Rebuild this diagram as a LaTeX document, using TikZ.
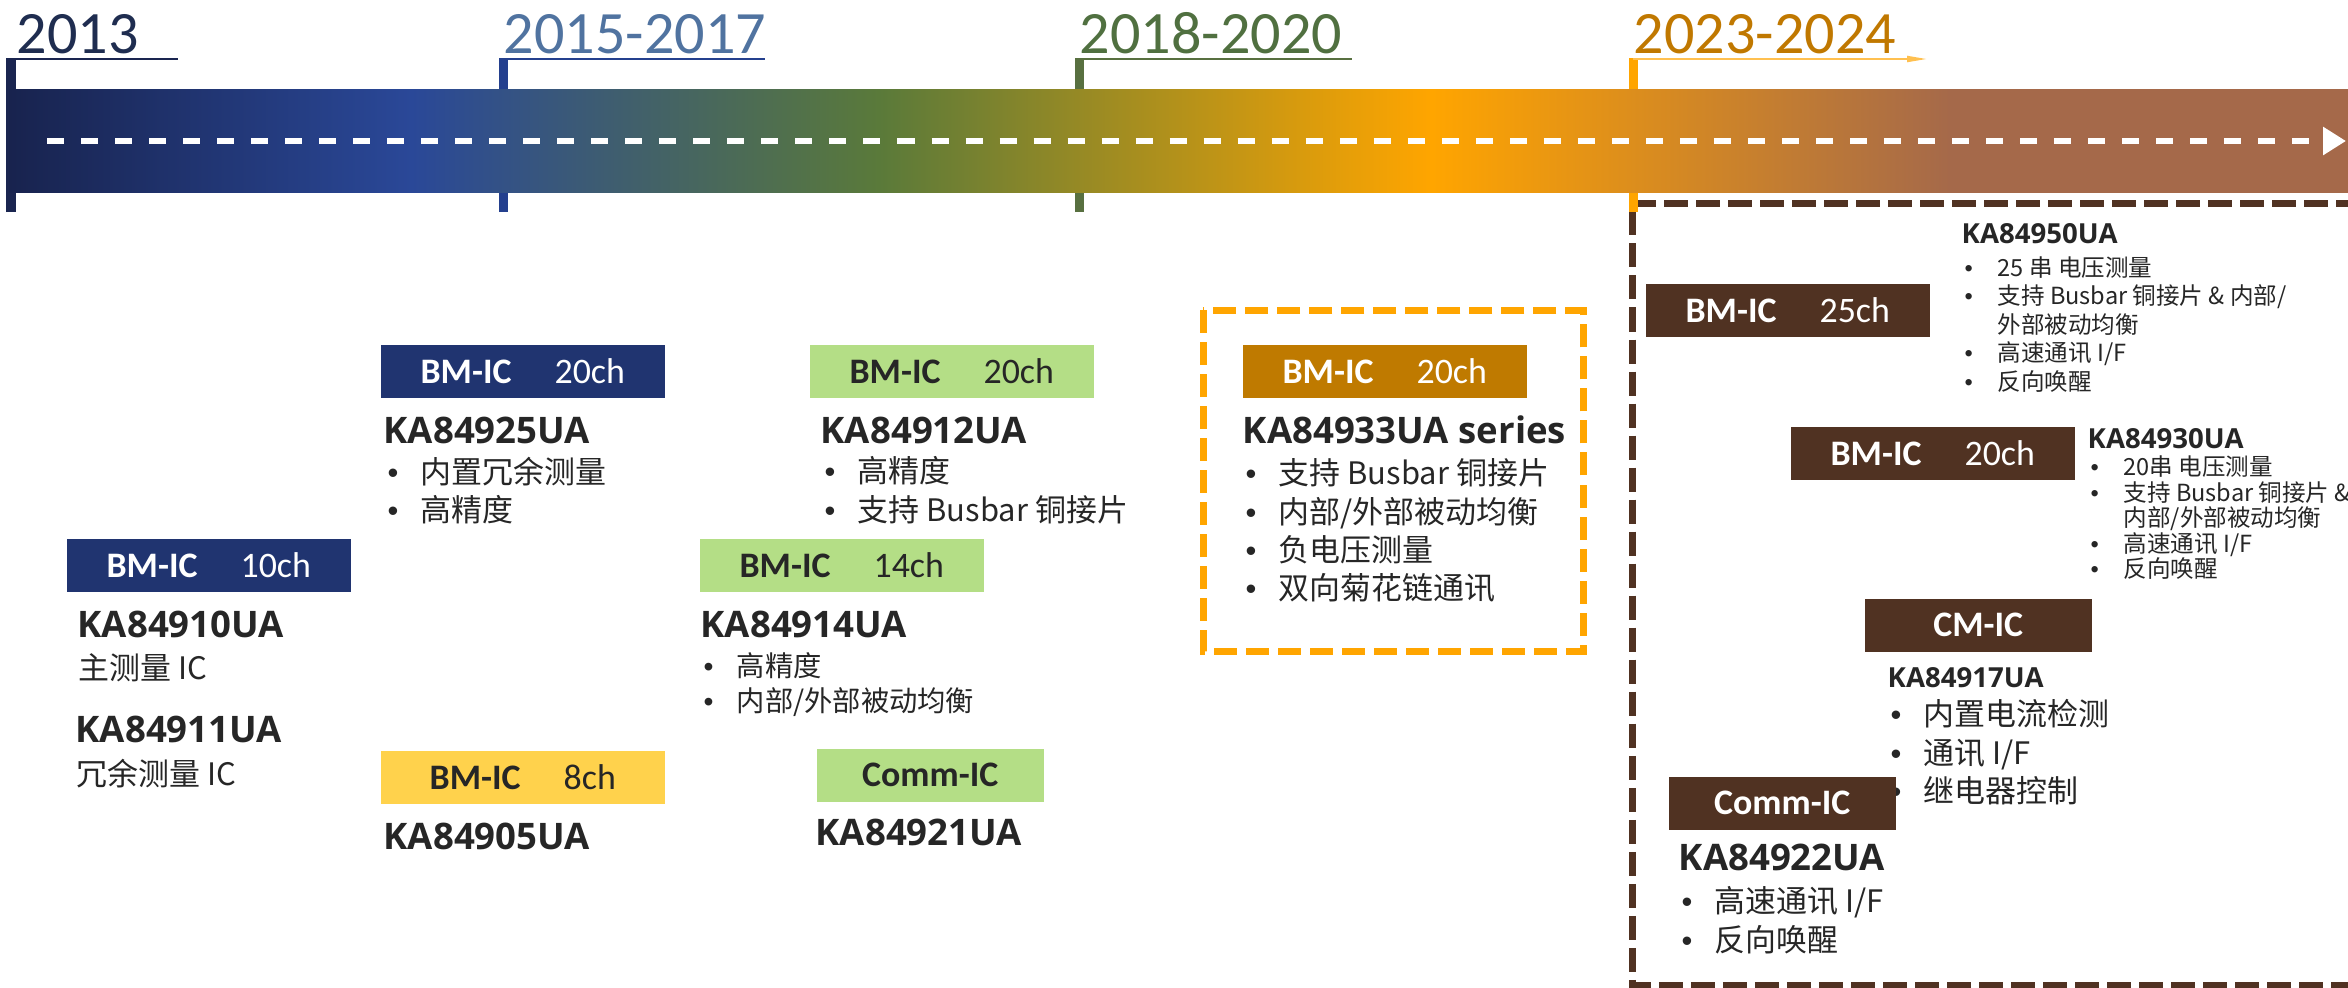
\documentclass[tikz,border=0pt]{standalone}
\usepackage{fontspec}
\setmainfont{Carlito}
\newfontfamily\cjk{Noto Sans CJK SC}
\newfontfamily\kafont{Open Sans}
\newfontfamily\bulfont{Liberation Sans}
\usepackage{tikz}
\usetikzlibrary{arrows.meta}
\usepackage{xcolor}

\definecolor{navybox}{RGB}{32,52,112}
\definecolor{greenbox}{RGB}{180,222,134}
\definecolor{yellowbox}{RGB}{255,210,76}
\definecolor{goldbox}{RGB}{191,122,0}
\definecolor{brownbox}{RGB}{80,50,34}
\definecolor{txt}{RGB}{38,38,38}
\definecolor{yr13}{RGB}{31,45,80}
\definecolor{yr15}{RGB}{80,115,160}
\definecolor{yr18}{RGB}{80,112,64}
\definecolor{yr23}{RGB}{192,120,0}
\definecolor{tk13}{RGB}{26,37,80}
\definecolor{tk15}{RGB}{36,64,142}
\definecolor{tk18}{RGB}{88,112,64}
\definecolor{tk23}{RGB}{255,165,0}
\definecolor{tk23l}{RGB}{255,192,80}

\pgfdeclarehorizontalshading{timebar}{100bp}{rgb(0bp)=(0.094,0.137,0.306);
  rgb(25bp)=(0.094,0.137,0.306); rgb(33.6bp)=(0.165,0.282,0.596);
  rgb(43.6bp)=(0.353,0.478,0.227); rgb(55.4bp)=(1,0.647,0);
  rgb(66.5bp)=(0.647,0.412,0.290); rgb(75bp)=(0.647,0.412,0.290);
  rgb(100bp)=(0.647,0.412,0.290)}

\newcommand{\hdfont}{\fontsize{17.1pt}{20pt}\selectfont}
\newcommand{\chipfont}{\fontsize{10.2pt}{12pt}\selectfont}
\newcommand{\kabig}{\kafont\bfseries\fontsize{10.4pt}{12pt}\selectfont}
\newcommand{\kasmall}{\kafont\bfseries\fontsize{7.85pt}{9pt}\selectfont}
\newcommand{\bulbig}{\cjk\fontsize{8.8pt}{10.9pt}\selectfont}
\newcommand{\bulmid}{\cjk\fontsize{8.05pt}{9.96pt}\selectfont}
\newcommand{\bulsmall}{\cjk\fontsize{6.7pt}{8.1pt}\selectfont}
\newcommand{\bulmark}{\makebox[3.3mm][l]{{\bulfont •}}}
\newcommand{\bulgap}{\hspace*{3.3mm}}

\begin{document}
\begin{tikzpicture}[x=0.01cm, y=-0.01cm,
  chip/.style={anchor=north west, inner sep=0, minimum width=28.4mm,
    minimum height=5.3mm, font=\chipfont},
  part/.style={anchor=north west, inner sep=0, text=txt, font=\kabig},
  feat/.style={anchor=north west, inner sep=0, text=txt, align=left, font=\bulbig},
  year/.style={anchor=base west, inner sep=0, font=\hdfont},
  tick/.style={line width=0.9mm}]
\useasboundingbox (0,0) rectangle (2348,987);

%% frame of 2023-2024
\draw[brownbox, line width=0.7mm, dash pattern=on 2.4mm off 0.8mm]
  (2360,203) -- (1632,203) -- (1632,985) -- (2360,985);

%% years
\node[year, yr13] (y13) at (16,53) {2013};
\node[year, yr15] (y15) at (503,53) {2015-2017};
\node[year, yr18] (y18) at (1079,53) {2018-2020};
\node[year, yr23] (y23) at (1633,53) {2023-2024};
\draw[tick, tk13] (11,212) -- (11,58);
\draw[tk13, line width=0.2mm] (11,59) -- (178,59);
\draw[tick, tk15] (503,212) -- (503,58);
\draw[tk15, line width=0.2mm] (503,59) -- (765,59);
\draw[tick, tk18] (1079,212) -- (1079,58);
\draw[tk18, line width=0.2mm] (1079,59) -- (1352,59);
\draw[tick, tk23] (1633,212) -- (1633,58);
\draw[tk23l, line width=0.2mm, -{Triangle[width=0.6mm,length=2mm]}] (1633,59) -- (1927,59);

%% time bar
\shade[shading=timebar] (9,89) rectangle (2348,192);
\draw[white, line width=0.6mm, dash pattern=on 1.7mm off 1.7mm,
  -{Triangle[width=2.7mm,length=2.3mm]}] (47,141) -- (2346,141);

%% 2013
\node[chip, fill=navybox, text=white] (c10) at (66,538) {\textbf{BM-IC}\hspace{4.3mm}10ch};
\node[part] (p10) at (77,610) {KA84910UA};
\node[feat] (d10) at (78,653) {主测量 IC};
\node[part] (p11) at (75,715) {KA84911UA};
\node[feat] (d11) at (76,758) {冗余测量 IC};

%% 2015-2017
\node[chip, fill=navybox, text=white] (c25) at (380,344) {\textbf{BM-IC}\hspace{4.3mm}20ch};
\node[part] (p25) at (383,416) {KA84925UA};
\node[feat] (f25) at (387,456) {\bulmark 内置冗余测量\\ \bulmark 高精度};
\node[chip, fill=yellowbox, text=txt] (c05) at (380,750) {\textbf{BM-IC}\hspace{4.3mm}8ch};
\node[part] (p05) at (383,822) {KA84905UA};

%% 2018-2020
\node[chip, fill=greenbox, text=txt] (c12) at (809,344) {\textbf{BM-IC}\hspace{4.3mm}20ch};
\node[part] (p12) at (820,416) {KA84912UA};
\node[feat] (f12) at (824,456) {\bulmark 高精度\\ \bulmark 支持 Busbar 铜接片};
\node[chip, fill=greenbox, text=txt] (c14) at (699,538) {\textbf{BM-IC}\hspace{4.3mm}14ch};
\node[part] (p14) at (700,610) {KA84914UA};
\node[feat, font=\bulmid] (f14) at (703,652) {\bulmark 高精度\\ \bulmark 内部/外部被动均衡};
\node[chip, fill=greenbox, text=txt, minimum width=22.7mm] (c21) at (816,748) {\textbf{Comm-IC}};
\node[part] (p21) at (815,818) {KA84921UA};

\draw[tk23, line width=0.7mm, dash pattern=on 2.3mm off 0.9mm] (1203,310) rectangle (1583,651);
\node[chip, fill=goldbox, text=white] (c33) at (1242,344) {\textbf{BM-IC}\hspace{4.3mm}20ch};
\node[part] (p33) at (1242,415) {KA84933UA series};
\node[feat] (f33) at (1245,458) {\bulmark 支持 Busbar 铜接片\\ \bulmark 内部/外部被动均衡\\
  \bulmark 负电压测量\\ \bulmark 双向菊花链通讯};

%% 2023-2024
\node[chip, fill=brownbox, text=white] (c50) at (1645,283) {\textbf{BM-IC}\hspace{4.3mm}25ch};
\node[part, font=\kasmall] (p50) at (1961,223) {KA84950UA};
\node[feat, font=\bulsmall] (f50) at (1964,256) {\bulmark 25 串 电压测量\\ \bulmark 支持 Busbar 铜接片 \& 内部/\\
  \bulgap 外部被动均衡\\ \bulmark 高速通讯 I/F\\ \bulmark 反向唤醒};
\node[chip, fill=brownbox, text=white] (c30) at (1790,426) {\textbf{BM-IC}\hspace{4.3mm}20ch};
\node[part, font=\kasmall] (p30) at (2087,428) {KA84930UA};
\node[feat, font=\cjk\fontsize{6.7pt}{7.26pt}\selectfont] (f30) at (2090,455) {\bulmark 20串 电压测量\\
  \bulmark 支持 Busbar 铜接片 \&\\ \bulgap 内部/外部被动均衡\\ \bulmark 高速通讯 I/F\\ \bulmark 反向唤醒};
\node[chip, fill=brownbox, text=white, minimum width=22.7mm] (c17) at (1864,598) {\textbf{CM-IC}};
\node[part, font=\kasmall] (p17) at (1887,667) {KA84917UA};
\node[feat] (f17) at (1890,699) {\bulmark 内置电流检测\\ \bulmark 通讯 I/F\\ \bulmark 继电器控制};
\node[chip, fill=brownbox, text=white, minimum width=22.7mm] (c22) at (1668,776) {\textbf{Comm-IC}};
\node[part] (p22) at (1678,843) {KA84922UA};
\node[feat] (f22) at (1681,886) {\bulmark 高速通讯 I/F\\ \bulmark 反向唤醒};
\end{tikzpicture}
\end{document}
